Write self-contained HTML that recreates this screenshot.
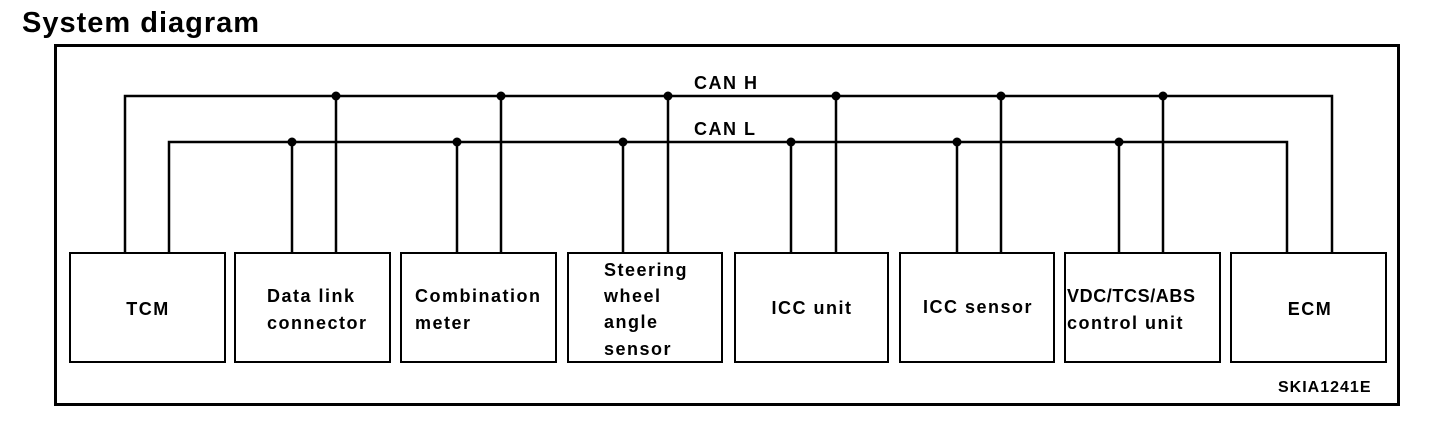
<!DOCTYPE html>
<html><head><meta charset="utf-8"><style>
body{margin:0;background:#fff;}
svg text{font-family:"Liberation Sans",Arial,sans-serif;font-weight:bold;fill:#000;}
</style></head><body>
<svg width="1456" height="416" viewBox="0 0 1456 416" xmlns="http://www.w3.org/2000/svg">
<text x="22" y="32" font-size="29" letter-spacing="1">System diagram</text>
<rect x="55.5" y="45.5" width="1343" height="359" fill="none" stroke="#000" stroke-width="3"/>
<g stroke="#000" stroke-width="2" fill="none">
<rect x="70" y="253" width="155" height="109"/>
<rect x="235" y="253" width="155" height="109"/>
<rect x="401" y="253" width="155" height="109"/>
<rect x="568" y="253" width="154" height="109"/>
<rect x="735" y="253" width="153" height="109"/>
<rect x="900" y="253" width="154" height="109"/>
<rect x="1065" y="253" width="155" height="109"/>
<rect x="1231" y="253" width="155" height="109"/>
</g>
<g stroke="#000" stroke-width="2.5" fill="none">
<polyline points="125,252 125,96 1332,96 1332,253"/>
<polyline points="169,252 169,142 1287,142 1287,252"/>
<line x1="336" y1="96" x2="336" y2="252"/>
<line x1="501" y1="96" x2="501" y2="252"/>
<line x1="668" y1="96" x2="668" y2="252"/>
<line x1="836" y1="96" x2="836" y2="252"/>
<line x1="1001" y1="96" x2="1001" y2="252"/>
<line x1="1163" y1="96" x2="1163" y2="252"/>
<line x1="292" y1="142" x2="292" y2="252"/>
<line x1="457" y1="142" x2="457" y2="252"/>
<line x1="623" y1="142" x2="623" y2="252"/>
<line x1="791" y1="142" x2="791" y2="252"/>
<line x1="957" y1="142" x2="957" y2="252"/>
<line x1="1119" y1="142" x2="1119" y2="252"/>
</g>
<g fill="#000">
<circle cx="336" cy="96" r="4.5"/><circle cx="501" cy="96" r="4.5"/><circle cx="668" cy="96" r="4.5"/>
<circle cx="836" cy="96" r="4.5"/><circle cx="1001" cy="96" r="4.5"/><circle cx="1163" cy="96" r="4.5"/>
<circle cx="292" cy="142" r="4.5"/><circle cx="457" cy="142" r="4.5"/><circle cx="623" cy="142" r="4.5"/>
<circle cx="791" cy="142" r="4.5"/><circle cx="957" cy="142" r="4.5"/><circle cx="1119" cy="142" r="4.5"/>
</g>
<g font-size="18" letter-spacing="1.5">
<text x="694" y="89">CAN H</text>
<text x="694" y="135">CAN L</text>
<text x="148" y="315" text-anchor="middle">TCM</text>
<text x="267" y="302">Data link</text>
<text x="267" y="329">connector</text>
<text x="415" y="302">Combination</text>
<text x="415" y="329">meter</text>
<text x="604" y="276">Steering</text>
<text x="604" y="302">wheel</text>
<text x="604" y="328">angle</text>
<text x="604" y="355">sensor</text>
<text x="812" y="314" text-anchor="middle">ICC unit</text>
<text x="978" y="313" text-anchor="middle">ICC sensor</text>
<text x="1067" y="302" letter-spacing="0.6">VDC/TCS/ABS</text>
<text x="1067" y="329">control unit</text>
<text x="1310" y="315" text-anchor="middle">ECM</text>
<text x="1278" y="392" font-size="16" letter-spacing="1">SKIA1241E</text>
</g>
</svg>
</body></html>
